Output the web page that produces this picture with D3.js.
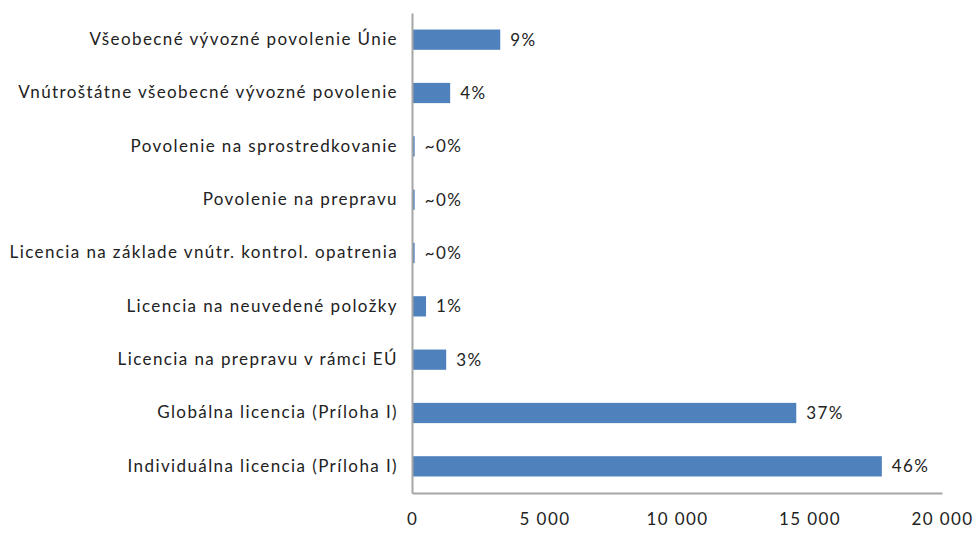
<!DOCTYPE html>
<html lang="sk">
<head>
    <meta charset="UTF-8">
    <title>Povolenia</title>
    <style>
        body { margin: 0; background: #fff; }
        svg { display: block; font-family: Lato, "Open Sans", sans-serif; }
    </style>
    <script src="https://d3js.org/d3.v7.min.js"></script>
</head>
<body>
    <div id="chart"></div>
    <script>
        // data (top to bottom)
        const categories = [
            "Všeobecné vývozné povolenie Únie",
            "Vnútroštátne všeobecné vývozné povolenie",
            "Povolenie na sprostredkovanie",
            "Povolenie na prepravu",
            "Licencia na základe vnútr. kontrol. opatrenia",
            "Licencia na neuvedené položky",
            "Licencia na prepravu v rámci EÚ",
            "Globálna licencia (Príloha I)",
            "Individuálna licencia (Príloha I)"
        ];
        const values = [3330, 1440, 100, 100, 100, 530, 1290, 14500, 17730];
        const shares = ["9%", "4%", "~0%", "~0%", "~0%", "1%", "3%", "37%", "46%"];
        const xTicks = [0, 5000, 10000, 15000, 20000];

        const width = 976, height = 547;
        const margin = { top: 13, right: 34, bottom: 54, left: 412 };
        const fontSize = "17px";
        const spacing = "1.4px";

        const svg = d3.select("#chart").append("svg")
            .attr("width", width)
            .attr("height", height);

        const x = d3.scaleLinear()
            .domain([0, 20000])
            .range([margin.left, width - margin.right]);

        const y = d3.scaleBand()
            .domain(categories)
            .range([margin.top, height - margin.bottom])
            .paddingInner(0.62)
            .paddingOuter(0.31);

        const rows = categories.map((c, i) => ({ cat: c, val: values[i], share: shares[i] }));

        svg.append("g")
            .selectAll("rect")
            .data(rows)
            .enter().append("rect")
            .attr("x", x(0))
            .attr("y", d => y(d.cat))
            .attr("width", d => x(d.val) - x(0))
            .attr("height", y.bandwidth())
            .attr("fill", "#4f81bd");

        svg.append("g")
            .selectAll("text")
            .data(rows)
            .enter().append("text")
            .attr("x", d => x(d.val) + 10)
            .attr("y", d => y(d.cat) + y.bandwidth() / 2)
            .attr("dy", "0.35em")
            .attr("font-size", fontSize)
            .attr("letter-spacing", spacing)
            .attr("fill", "#222")
            .text(d => d.share);

        // category axis
        const yAxis = svg.append("g")
            .attr("transform", `translate(${margin.left},0)`)
            .call(d3.axisLeft(y).tickSize(0).tickPadding(14))
            .attr("font-family", null)
            .attr("font-size", fontSize);
        yAxis.select(".domain").attr("stroke", "#a6a6a6").attr("stroke-width", 2);
        yAxis.selectAll("text").attr("fill", "#222").attr("letter-spacing", spacing);

        // value axis
        const xAxis = svg.append("g")
            .attr("transform", `translate(0,${height - margin.bottom})`)
            .call(d3.axisBottom(x).tickValues(xTicks).tickSize(0).tickPadding(20)
                .tickFormat(d => d3.format(",")(d).replace(/,/g, " ")))
            .attr("font-family", null)
            .attr("font-size", fontSize);
        xAxis.select(".domain").attr("stroke", "#a6a6a6").attr("stroke-width", 2);
        xAxis.selectAll("text").attr("fill", "#222").attr("letter-spacing", spacing);
    </script>
</body>
</html>
